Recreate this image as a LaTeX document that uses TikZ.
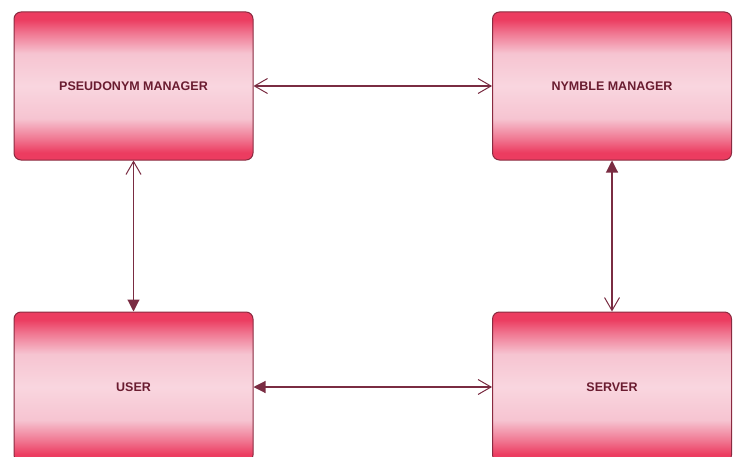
\documentclass[tikz,border=0pt]{standalone}
\usepackage{fontspec}
\setmainfont{Liberation Sans}
\usetikzlibrary{arrows.meta}
\definecolor{bdeep}{HTML}{EC3C60}
\definecolor{bmid}{HTML}{F07590}
\definecolor{blight}{HTML}{F6C4D1}
\definecolor{blight2}{HTML}{F9D6DF}
\definecolor{bborder}{HTML}{8A2A40}
\definecolor{btext}{HTML}{6A1C30}
\definecolor{lcol}{HTML}{7A2C42}
\pgfdeclareverticalshading{boxshade}{100bp}{color(0bp)=(bdeep); color(25bp)=(bdeep); color(27.5bp)=(bdeep); color(32bp)=(bmid); color(39bp)=(blight); color(50bp)=(blight2); color(61bp)=(blight); color(68bp)=(bmid); color(72.5bp)=(bdeep); color(75bp)=(bdeep); color(100bp)=(bdeep)}
\tikzset{
  openv/.tip={Straight Barb[length=13pt,width=15pt,line width=1pt]},
  filltip/.tip={Triangle[length=12pt,width=12pt]}}
\begin{document}
\begin{tikzpicture}[x=1pt,y=1pt,
  box/.style={draw=bborder, line width=1pt, rounded corners=7pt, shading=boxshade,
    minimum width=239pt, inner sep=0pt, font=\bfseries\fontsize{12.5}{14}\selectfont, text=btext},
  conn/.style={draw=lcol, line width=1.1pt}]
\useasboundingbox (0,0) rectangle (735,456);
\begin{scope}
\clip (0,0) rectangle (735,456);
\node[box, minimum height=148pt] (pm) at (133.5,370) {PSEUDONYM MANAGER};
\node[box, minimum height=148pt] (nm) at (612,370) {NYMBLE MANAGER};
\node[box, minimum height=150pt] (user) at (133.5,69) {USER};
\node[box, minimum height=150pt] (server) at (612,69) {SERVER};
\draw[conn, openv-openv] (pm.east) -- (pm.east -| nm.west);
\draw[conn, openv-filltip] (pm.south) -- (user.north);
\draw[conn, filltip-openv] (nm.south) -- (server.north);
\draw[conn, filltip-openv] (user.east) -- (user.east -| server.west);
\end{scope}
\end{tikzpicture}
\end{document}
